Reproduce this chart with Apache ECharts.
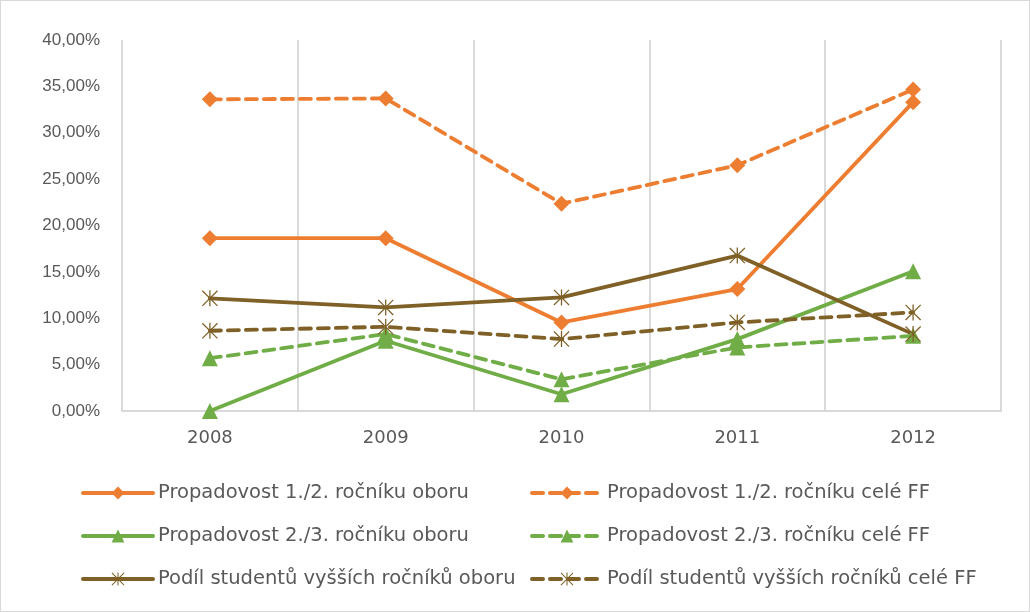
<!DOCTYPE html>
<html>
<head>
<meta charset="utf-8">
<script src="https://cdn.jsdelivr.net/npm/echarts@6/dist/echarts.min.js"></script>
<style>
  html, body { margin: 0; padding: 0; background: #fff; }
  #chart { width: 1028px; height: 610px; border: 1px solid #d9d9d9; }
</style>
</head>
<body>
<div id="chart"></div>
<script>
// data (percent)
const years = ["2008", "2009", "2010", "2011", "2012"];
const prop12Obor = [18.63, 18.63, 9.55, 13.15, 33.3];
const prop12FF = [33.6, 33.7, 22.35, 26.5, 34.66];
const prop23Obor = [0, 7.57, 1.8, 7.75, 15.06];
const prop23FF = [5.69, 8.3, 3.42, 6.85, 8.1];
const podilObor = [12.15, 11.17, 12.25, 16.76, 8.29];
const podilFF = [8.65, 9.08, 7.75, 9.55, 10.63];

const orange = "#ED7D31";
const green = "#70AD47";
const brown = "#7F6027";
const textColor = "#595959";

// asterisk marker made of thin bars
const star = "path://M9.2,0 L10.8,0 L10.8,20 L9.2,20 Z M0,1.1 L1.1,0 L20,18.9 L18.9,20 Z M18.9,0 L20,1.1 L1.1,20 L0,18.9 Z";

function line(name, data, color, symbol, size, dashed) {
  return {
    name: name,
    type: "line",
    data: data,
    symbol: symbol,
    symbolSize: size,
    showAllSymbol: true,
    itemStyle: { color: color },
    lineStyle: { color: color, width: 3.8, type: dashed ? [11, 7] : "solid", cap: "round" },
    emphasis: { disabled: true }
  };
}

const legendBase = {
  orient: "vertical",
  top: 477,
  itemWidth: 70,
  itemHeight: 16,
  itemGap: 23,
  lineStyle: { width: 4 },
  textStyle: { color: textColor, fontSize: 19.5, lineHeight: 20, fontFamily: "DejaVu Sans" }
};

const chart = echarts.init(document.getElementById("chart"));
chart.setOption({
  animation: false,
  textStyle: { fontFamily: "Liberation Sans" },
  grid: { left: 121, right: 28, top: 39, bottom: 200 },
  legend: [
    Object.assign({}, legendBase, {
      left: 75,
      data: ["Propadovost 1./2. ročníku oboru", "Propadovost 2./3. ročníku oboru", "Podíl studentů vyšších ročníků oboru"]
    }),
    Object.assign({}, legendBase, {
      left: 524,
      data: ["Propadovost 1./2. ročníku celé FF", "Propadovost 2./3. ročníku celé FF", "Podíl studentů vyšších ročníků celé FF"]
    })
  ],
  xAxis: {
    type: "category",
    data: years,
    boundaryGap: true,
    axisLine: { lineStyle: { color: "#d9d9d9", width: 2 } },
    axisTick: { show: false },
    axisLabel: { color: textColor, fontSize: 18, margin: 18, fontFamily: "DejaVu Sans" },
    splitLine: { show: true, lineStyle: { color: "#d9d9d9", width: 2 } }
  },
  yAxis: {
    type: "value",
    min: 0,
    max: 40,
    interval: 5,
    axisLine: { show: false },
    axisTick: { show: false },
    splitLine: { show: false },
    axisLabel: {
      color: textColor,
      fontSize: 17,
      margin: 22,
      fontFamily: "Liberation Sans",
      formatter: v => v.toFixed(2).replace(".", ",") + "%"
    }
  },
  series: [
    line("Propadovost 1./2. ročníku oboru", prop12Obor, orange, "diamond", 16, false),
    line("Propadovost 1./2. ročníku celé FF", prop12FF, orange, "diamond", 16, true),
    line("Propadovost 2./3. ročníku oboru", prop23Obor, green, "triangle", 16, false),
    line("Propadovost 2./3. ročníku celé FF", prop23FF, green, "triangle", 16, true),
    line("Podíl studentů vyšších ročníků oboru", podilObor, brown, star, 16, false),
    line("Podíl studentů vyšších ročníků celé FF", podilFF, brown, star, 16, true)
  ]
});
</script>
</body>
</html>
